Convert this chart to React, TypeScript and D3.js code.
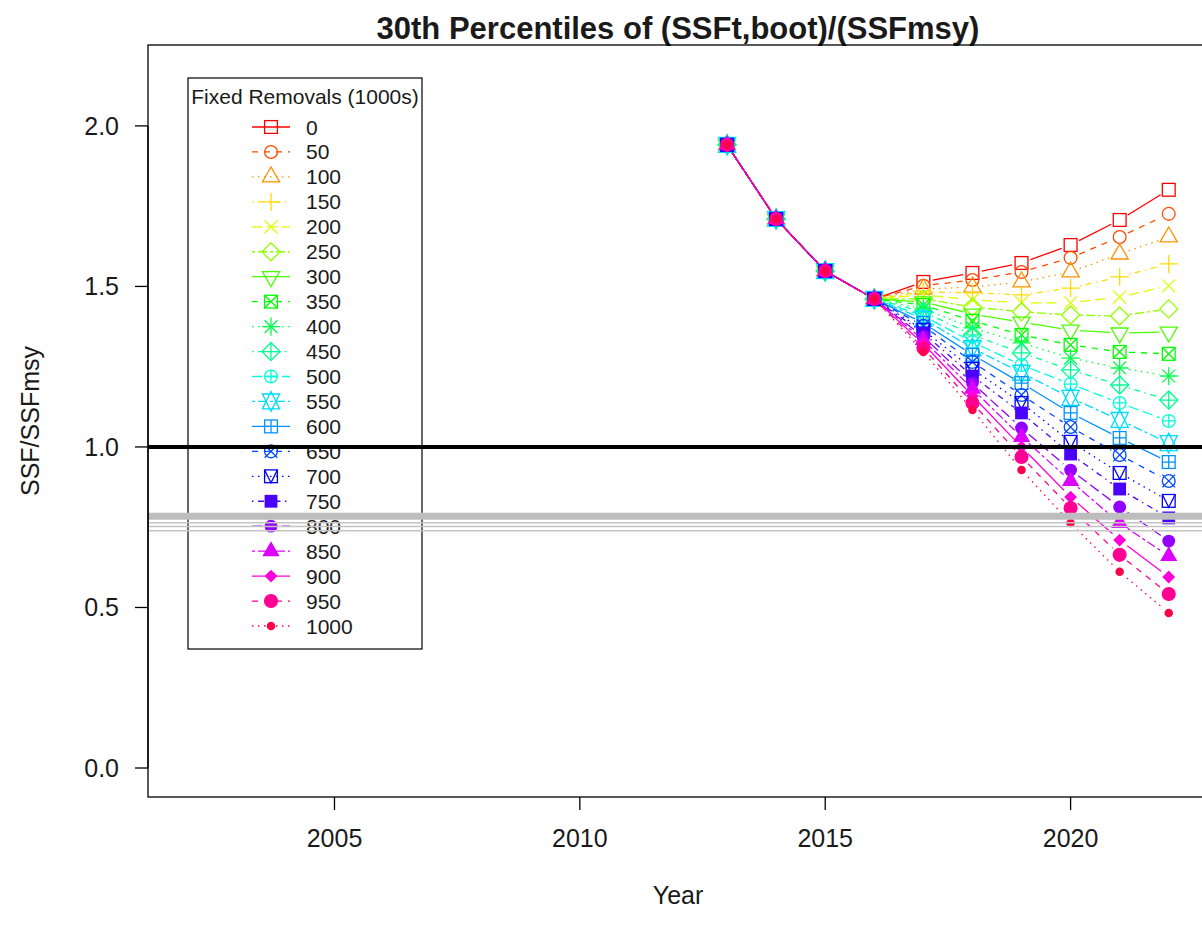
import React from "react";
import * as d3 from "d3";

// Projection years and the observed stock trajectory shared by every scenario
const years = [2013, 2014, 2015, 2016, 2017, 2018, 2019, 2020, 2021, 2022];
const historic = [1.941, 1.71, 1.548, 1.461];

// Fixed removal scenarios (1000s)
const removals = [0, 50, 100, 150, 200, 250, 300, 350, 400, 450, 500, 550, 600, 650, 700, 750, 800, 850, 900, 950, 1000];

// 30th percentile SSF/SSFmsy by projection year, one value per removal scenario
const p2017 = [1.514, 1.502, 1.492, 1.483, 1.474, 1.461, 1.452, 1.442, 1.43, 1.421, 1.408, 1.399, 1.386, 1.377, 1.364, 1.355, 1.343, 1.333, 1.321, 1.308, 1.296];
const p2018 = [1.542, 1.52, 1.498, 1.48, 1.458, 1.436, 1.414, 1.393, 1.371, 1.349, 1.327, 1.308, 1.287, 1.265, 1.243, 1.221, 1.199, 1.181, 1.159, 1.137, 1.115];
const p2019 = [1.573, 1.545, 1.514, 1.474, 1.449, 1.421, 1.389, 1.349, 1.324, 1.293, 1.255, 1.231, 1.199, 1.162, 1.137, 1.106, 1.059, 1.031, 1.0, 0.969, 0.928];
const p2020 = [1.629, 1.589, 1.545, 1.495, 1.449, 1.411, 1.364, 1.318, 1.277, 1.24, 1.196, 1.153, 1.106, 1.062, 1.016, 0.978, 0.928, 0.894, 0.844, 0.81, 0.763];
const p2021 = [1.707, 1.654, 1.601, 1.53, 1.467, 1.408, 1.355, 1.296, 1.246, 1.193, 1.137, 1.084, 1.028, 0.975, 0.919, 0.869, 0.813, 0.763, 0.71, 0.664, 0.611];
const p2022 = [1.801, 1.726, 1.654, 1.57, 1.502, 1.43, 1.358, 1.29, 1.221, 1.146, 1.081, 1.012, 0.953, 0.894, 0.832, 0.779, 0.707, 0.66, 0.595, 0.542, 0.483];

// Reference levels
const targetLevel = 1.0;
const thresholdLevels = [0.764, 0.752, 0.739];
const thresholdBand = 0.784;

const xTicks = [2005, 2010, 2015, 2020];
const yTicks = [0, 0.5, 1.0, 1.5, 2.0];

const titleText = "30th Percentiles of (SSFt,boot)/(SSFmsy)";
const xLabel = "Year";
const yLabel = "SSF/SSFmsy";
const legendTitle = "Fixed Removals (1000s)";

const FONT = "'Liberation Sans', Arial, Helvetica, sans-serif";

// plot region
const left = 148, right = 1208, top = 45, bottom = 797;
const x = d3.scaleLinear().domain([2001.2, 2022.8]).range([left, right]);
const y = d3.scaleLinear().domain([-0.0903, 2.252]).range([bottom, top]);

// rainbow palette (hsv with full saturation/value)
const colors = removals.map((_, i) => d3.hsl((i / removals.length) * 360, 1, 0.5).formatHex());

// line types cycling solid, dashed, dotted, dotdash, longdash, twodash
const dashes = [null, "6 6", "1.5 4.5", "1.5 4.5 6 4.5", "10.5 4.5", "3 3 9 3"];

const SW = 1.3;
const TEXT = "#1a1a1a";

function Marker({ pch, cx, cy, c }: { pch: number; cx: number; cy: number; c: string }) {
  const s = 6.4;
  const st = { stroke: c, strokeWidth: SW, fill: "none" } as any;
  const fl = { fill: c, stroke: "none" } as any;
  const sq = <rect x={cx - s} y={cy - s} width={2 * s} height={2 * s} {...st} />;
  const plus = (h: number) => (
    <path d={`M${cx - h},${cy}H${cx + h}M${cx},${cy - h}V${cy + h}`} {...st} />
  );
  const cross = (h: number) => (
    <path d={`M${cx - h},${cy - h}L${cx + h},${cy + h}M${cx - h},${cy + h}L${cx + h},${cy - h}`} {...st} />
  );
  const diamond = (h: number, style: any) => (
    <path d={`M${cx},${cy - h}L${cx + h},${cy}L${cx},${cy + h}L${cx - h},${cy}Z`} {...style} />
  );
  const r0 = 1.5551 * s, yc = 0.7776 * s, xc = 1.3468 * s;
  const triUp = `M${cx},${cy - r0}L${cx + xc},${cy + yc}L${cx - xc},${cy + yc}Z`;
  const triDn = `M${cx},${cy + r0}L${cx + xc},${cy - yc}L${cx - xc},${cy - yc}Z`;
  switch (pch) {
    case 0: return sq;
    case 1: return <circle cx={cx} cy={cy} r={s} {...st} />;
    case 2: return <path d={triUp} {...st} />;
    case 3: return plus(1.414 * s);
    case 4: return cross(s);
    case 5: return diamond(1.414 * s, st);
    case 6: return <path d={triDn} {...st} />;
    case 7: return <g>{sq}{cross(s)}</g>;
    case 8: return <g>{plus(1.414 * s)}{cross(s)}</g>;
    case 9: return <g>{diamond(1.414 * s, st)}{plus(1.414 * s)}</g>;
    case 10: return <g><circle cx={cx} cy={cy} r={s} {...st} />{plus(s)}</g>;
    case 11: {
      const yy = 0.5 * (yc + r0);
      return (
        <g>
          <path d={`M${cx},${cy - r0}L${cx + xc},${cy + yy}L${cx - xc},${cy + yy}Z`} {...st} />
          <path d={`M${cx},${cy + r0}L${cx + xc},${cy - yy}L${cx - xc},${cy - yy}Z`} {...st} />
        </g>
      );
    }
    case 12: return <g>{sq}{plus(s)}</g>;
    case 13: return <g><circle cx={cx} cy={cy} r={s} {...st} />{cross(s)}</g>;
    case 14: return <g>{sq}<path d={`M${cx - s},${cy - s}L${cx},${cy + s}L${cx + s},${cy - s}`} {...st} /></g>;
    case 15: return <rect x={cx - s} y={cy - s} width={2 * s} height={2 * s} {...fl} />;
    case 16: return <circle cx={cx} cy={cy} r={s} {...fl} />;
    case 17: return <path d={triUp} {...fl} />;
    case 18: return diamond(s, fl);
    case 19: return <circle cx={cx} cy={cy} r={s} fill={c} stroke={c} strokeWidth={SW} />;
    case 20: return <circle cx={cx} cy={cy} r={(2 / 3) * s} {...fl} />;
    default: return null;
  }
}

// line segments with gaps around the points
function gappedPath(pts: [number, number][], gap: number) {
  let d = "";
  for (let k = 0; k < pts.length - 1; k++) {
    const [x0, y0] = pts[k];
    const [x1, y1] = pts[k + 1];
    const len = Math.hypot(x1 - x0, y1 - y0);
    if (len <= 2 * gap) continue;
    const ux = (x1 - x0) / len, uy = (y1 - y0) / len;
    d += `M${x0 + ux * gap},${y0 + uy * gap}L${x1 - ux * gap},${y1 - uy * gap}`;
  }
  return d;
}

// text with optional horizontal condensing
function Label({ tx, ty, anchor, size, sx = 1, rotate = 0, weight, children }: any) {
  return (
    <text
      transform={`translate(${tx},${ty}) rotate(${rotate}) scale(${sx},1)`}
      textAnchor={anchor}
      dominantBaseline="central"
      fontSize={size}
      fontWeight={weight}
      fill={TEXT}
    >
      {children}
    </text>
  );
}

export default function App() {
  const projections = [p2017, p2018, p2019, p2020, p2021, p2022];
  const series = removals.map((_, i) => [...historic, ...projections.map((p) => p[i])]);

  const legX = 188, legY = 78, legW = 234, legH = 571;
  const legRow0 = 127, legStep = 24.95;

  return (
    <svg width={1202} height={936} style={{ display: "block", position: "absolute", left: 0, top: 0, background: "#fff" }} fontFamily={FONT}>
      <rect x={0} y={0} width={1202} height={936} fill="#fff" />
      <Label tx={678} ty={28} anchor="middle" size={31} weight="bold">{titleText}</Label>

      {/* series */}
      {series.map((vals, i) => {
        const pts = vals.map((v, k) => [x(years[k]), y(v)] as [number, number]);
        return (
          <g key={i}>
            <path d={gappedPath(pts, 9.5)} fill="none" stroke={colors[i]} strokeWidth={SW} strokeDasharray={dashes[i % 6] ?? undefined} />
            {pts.map((p, k) => (
              <Marker key={k} pch={i} cx={p[0]} cy={p[1]} c={colors[i]} />
            ))}
          </g>
        );
      })}

      {/* legend */}
      <rect x={legX} y={legY} width={legW} height={legH} fill="#fff" stroke="#000" strokeWidth={1.2} />
      <Label tx={legX + legW / 2} ty={96} anchor="middle" size={21}>{legendTitle}</Label>
      {removals.map((r, i) => {
        const yy = legRow0 + i * legStep;
        return (
          <g key={r}>
            <line x1={252} x2={290} y1={yy} y2={yy} stroke={colors[i]} strokeWidth={SW} strokeDasharray={dashes[i % 6] ?? undefined} />
            <Marker pch={i} cx={271} cy={yy} c={colors[i]} />
            <Label tx={306} ty={yy} anchor="start" size={21}>{r}</Label>
          </g>
        );
      })}

      {/* reference lines */}
      <line x1={left} x2={right} y1={y(thresholdBand)} y2={y(thresholdBand)} stroke="#bdbdbd" strokeWidth={7} />
      {thresholdLevels.map((v) => (
        <line key={v} x1={left} x2={right} y1={y(v)} y2={y(v)} stroke="#c4c4c4" strokeWidth={1.5} />
      ))}
      <line x1={left} x2={right} y1={y(targetLevel)} y2={y(targetLevel)} stroke="#000" strokeWidth={4} />

      {/* plot box */}
      <rect x={left} y={top} width={right - left} height={bottom - top} fill="none" stroke="#000" strokeWidth={1.3} />

      {/* y axis */}
      <line x1={left} x2={left} y1={y(0)} y2={y(2)} stroke="#000" strokeWidth={1.3} />
      {yTicks.map((t) => (
        <g key={t}>
          <line x1={left - 13} x2={left} y1={y(t)} y2={y(t)} stroke="#000" strokeWidth={1.3} />
          <Label tx={119} ty={y(t)} anchor="end" size={25}>{t.toFixed(1)}</Label>
        </g>
      ))}

      {/* x axis */}
      {xTicks.map((t) => (
        <g key={t}>
          <line x1={x(t)} x2={x(t)} y1={bottom} y2={bottom + 13} stroke="#000" strokeWidth={1.3} />
          <Label tx={x(t)} ty={838} anchor="middle" size={25}>{t}</Label>
        </g>
      ))}

      <Label tx={678} ty={895} anchor="middle" size={25}>{xLabel}</Label>
      <Label tx={30} ty={(top + bottom) / 2} anchor="middle" size={25} rotate={-90}>{yLabel}</Label>
    </svg>
  );
}
